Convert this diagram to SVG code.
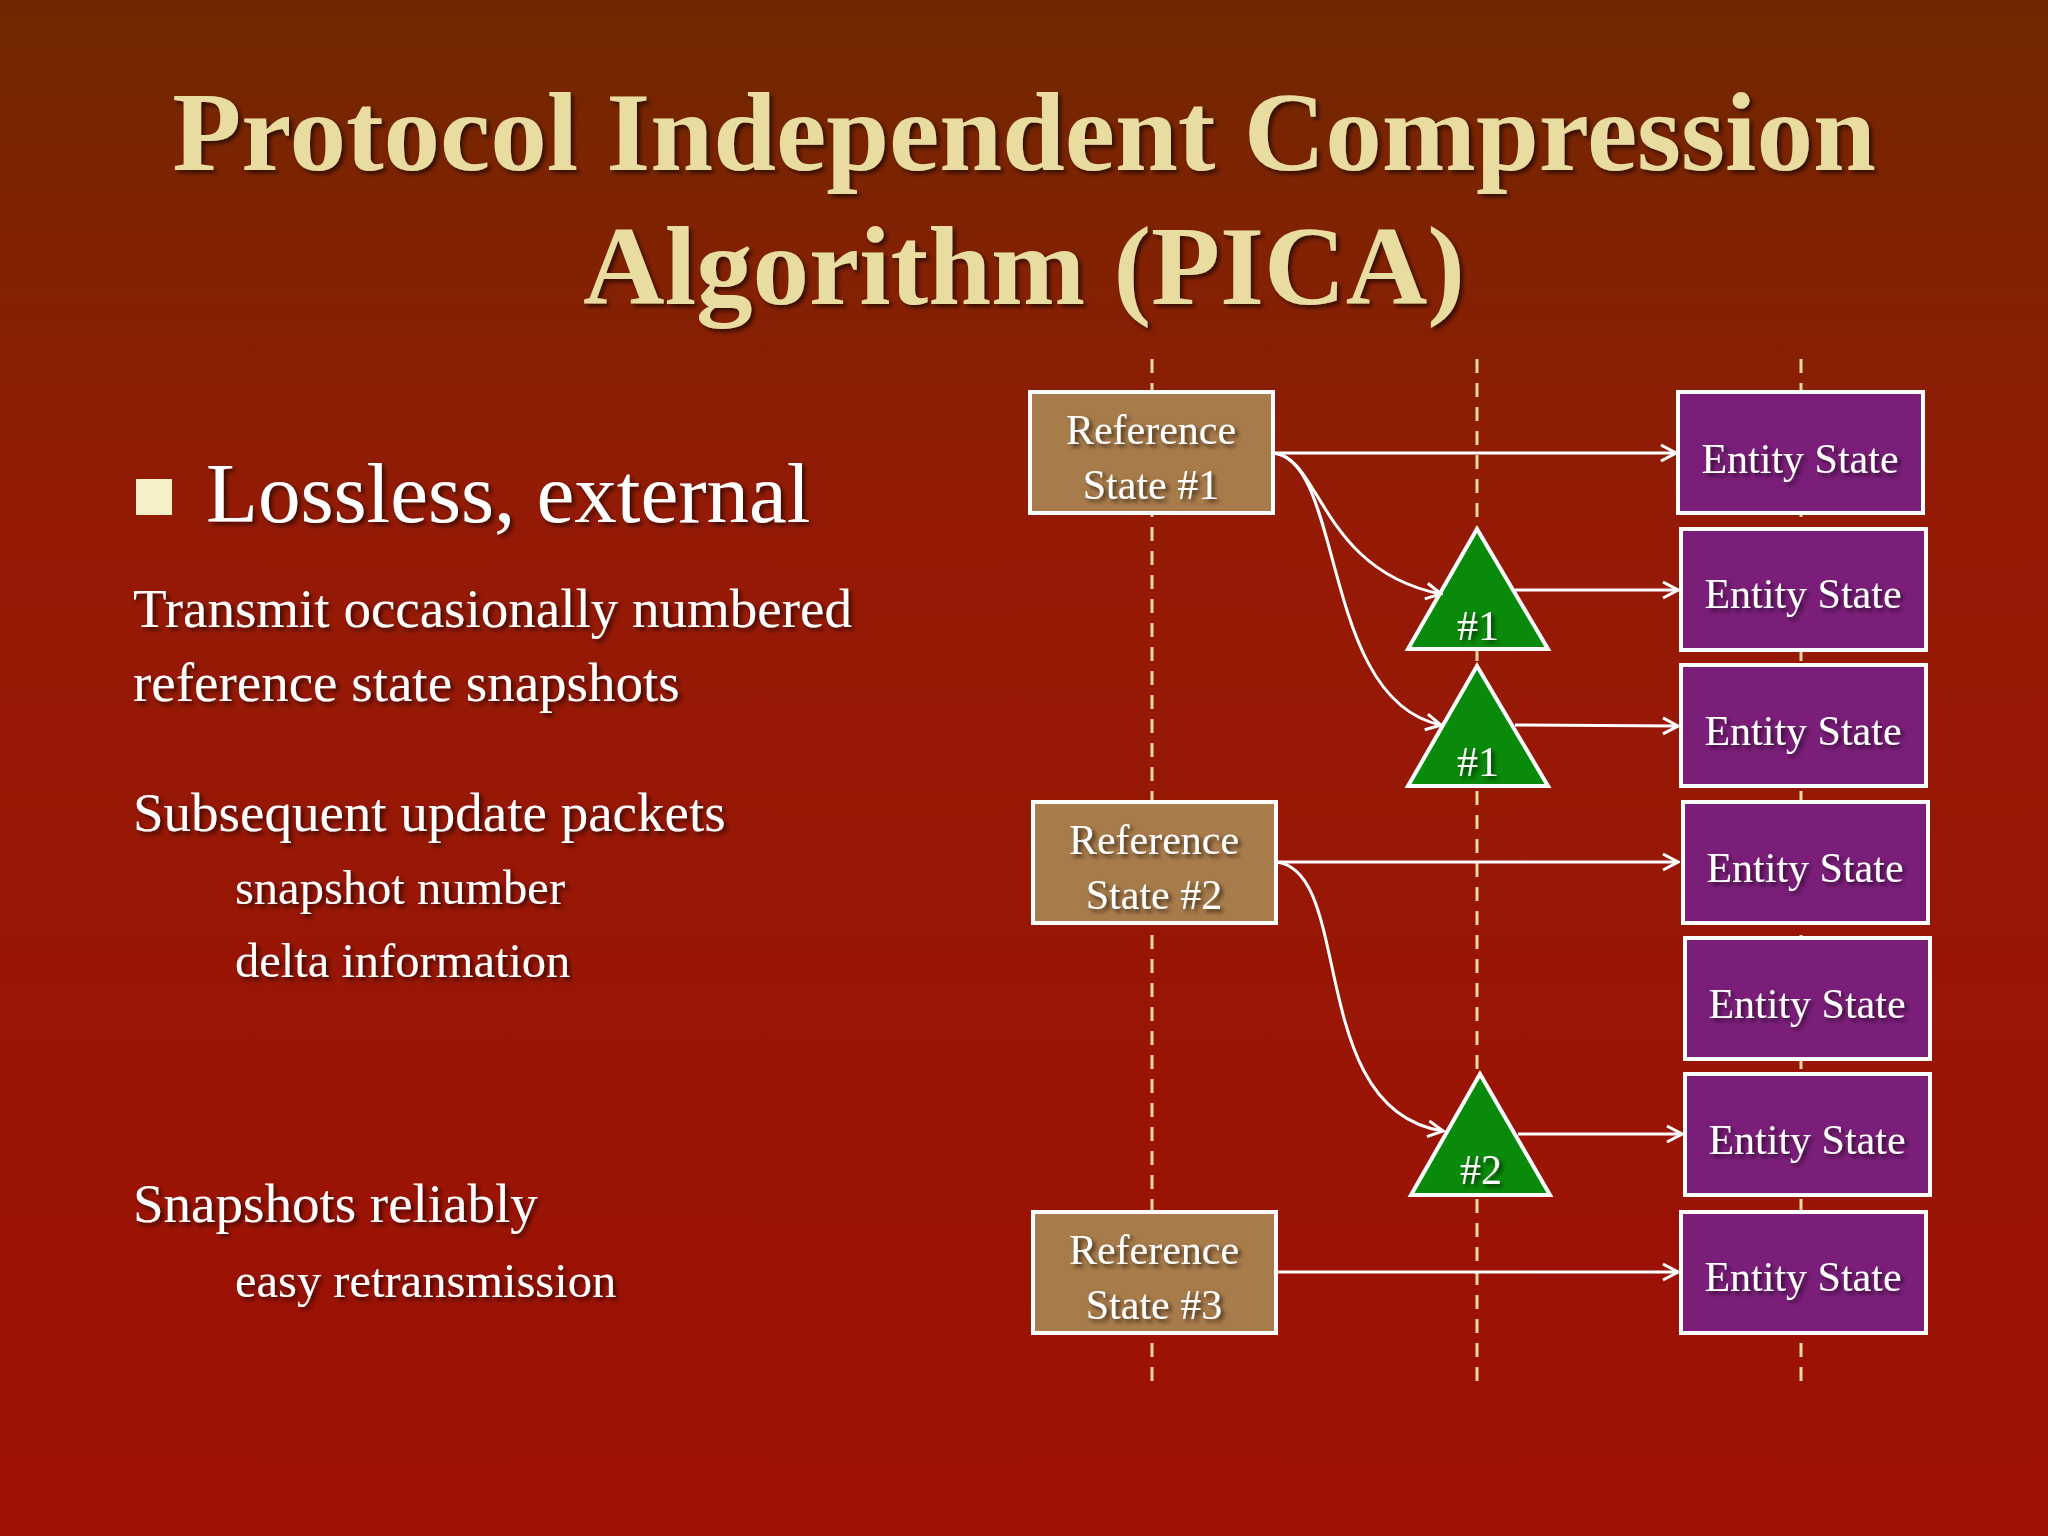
<svg xmlns="http://www.w3.org/2000/svg" width="2048" height="1536" viewBox="0 0 2048 1536">
<defs>
<linearGradient id="bg" x1="0" y1="0" x2="0" y2="1">
<stop offset="0" stop-color="#702800"/><stop offset="0.35" stop-color="#951a06"/><stop offset="1" stop-color="#9e1004"/>
</linearGradient>
<filter id="sh" x="-5%" y="-20%" width="110%" height="140%"><feDropShadow dx="3" dy="3" stdDeviation="2" flood-color="#000" flood-opacity="0.6"/></filter>
<marker id="ah" viewBox="0 0 20 20" refX="18" refY="10" markerWidth="20" markerHeight="20" markerUnits="userSpaceOnUse" orient="auto"><path d="M3,2 L18,10 L3,18" fill="none" stroke="#fff" stroke-width="3"/></marker>
<style>
.t{font-family:"Liberation Serif",serif;fill:#fff;filter:url(#sh)}
.ttl{font-family:"Liberation Serif",serif;font-weight:bold;font-size:113px;fill:#e8dca0;filter:url(#sh);text-anchor:middle}
.body{font-size:55px}
.sub{font-size:48.5px}
.lbl{font-family:"Liberation Serif",serif;fill:#fff;font-size:42px;text-anchor:middle;filter:url(#sh)}
.ref{fill:#a87b4a;stroke:#fff;stroke-width:4}
.ent{fill:#7b1e7a;stroke:#fff;stroke-width:4}
.tri{fill:#0a8a0a;stroke:#fff;stroke-width:4}
.dash{stroke:#ecd9a0;stroke-width:3;stroke-dasharray:14 10}
.con{fill:none;stroke:#fff;stroke-width:3;marker-end:url(#ah)}
</style>
</defs>
<rect width="2048" height="1536" fill="url(#bg)"/>
<text class="ttl" x="1024" y="170">Protocol Independent Compression</text>
<text class="ttl" x="1024" y="304">Algorithm (PICA)</text>
<rect x="136" y="479" width="36" height="36" fill="#f5f0c8"/>
<text class="t" x="206" y="522" font-size="85">Lossless, external</text>
<text class="t body" x="133" y="627">Transmit occasionally numbered</text>
<text class="t body" x="133" y="701">reference state snapshots</text>
<text class="t body" x="133" y="831">Subsequent update packets</text>
<text class="t sub" x="235" y="904">snapshot number</text>
<text class="t sub" x="235" y="977">delta information</text>
<text class="t body" x="133" y="1222">Snapshots reliably</text>
<text class="t sub" x="235" y="1297">easy retransmission</text>
<g id="lanes">
<line class="dash" x1="1152" y1="359" x2="1152" y2="1382"/>
<line class="dash" x1="1477" y1="359" x2="1477" y2="1382"/>
<line class="dash" x1="1801" y1="359" x2="1801" y2="1382"/>
</g>
<g id="ref1"><rect class="ref" x="1030" y="392" width="243" height="121"/><text class="lbl" x="1151" y="444">Reference</text><text class="lbl" x="1151" y="499">State #1</text></g>
<g id="ref2"><rect class="ref" x="1033" y="802" width="243" height="121"/><text class="lbl" x="1154" y="854">Reference</text><text class="lbl" x="1154" y="909">State #2</text></g>
<g id="ref3"><rect class="ref" x="1033" y="1212" width="243" height="121"/><text class="lbl" x="1154" y="1264">Reference</text><text class="lbl" x="1154" y="1319">State #3</text></g>
<g id="e1"><rect class="ent" x="1678" y="392" width="245" height="121"/><text class="lbl" x="1800" y="473">Entity State</text></g>
<g id="e2"><rect class="ent" x="1681" y="529" width="245" height="121"/><text class="lbl" x="1803" y="608">Entity State</text></g>
<g id="e3"><rect class="ent" x="1681" y="665" width="245" height="121"/><text class="lbl" x="1803" y="745">Entity State</text></g>
<g id="e4"><rect class="ent" x="1683" y="802" width="245" height="121"/><text class="lbl" x="1805" y="882">Entity State</text></g>
<g id="e5"><rect class="ent" x="1685" y="938" width="245" height="121"/><text class="lbl" x="1807" y="1018">Entity State</text></g>
<g id="e6"><rect class="ent" x="1685" y="1074" width="245" height="121"/><text class="lbl" x="1807" y="1154">Entity State</text></g>
<g id="e7"><rect class="ent" x="1681" y="1212" width="245" height="121"/><text class="lbl" x="1803" y="1291">Entity State</text></g>
<g id="t1"><polygon class="tri" points="1477,529 1548,649 1408,649"/><text class="lbl" x="1478" y="640">#1</text></g>
<g id="t2"><polygon class="tri" points="1477,666 1548,786 1408,786"/><text class="lbl" x="1478" y="776">#1</text></g>
<g id="t3"><polygon class="tri" points="1480,1074 1550,1195 1411,1195"/><text class="lbl" x="1481" y="1184">#2</text></g>
<g id="connectors">
<path class="con" d="M1273,453 L1676,453"/>
<path class="con" d="M1273,453 C1320,455 1320,570 1441,594"/>
<path class="con" d="M1273,453 C1345,460 1320,700 1441,725"/>
<path class="con" d="M1515,590 L1678,590"/>
<path class="con" d="M1515,725 L1678,726"/>
<path class="con" d="M1276,862 L1678,862"/>
<path class="con" d="M1276,862 C1355,870 1305,1110 1443,1131"/>
<path class="con" d="M1518,1134 L1682,1134"/>
<path class="con" d="M1276,1272 L1678,1272"/>
</g>
</svg>
